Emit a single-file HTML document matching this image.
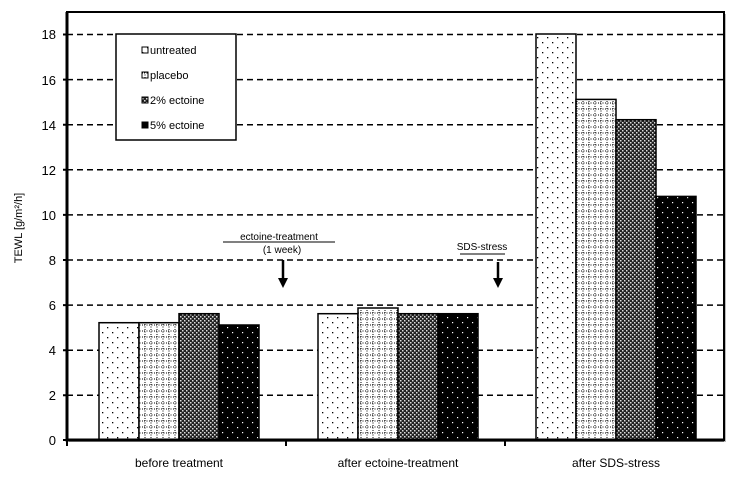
<!DOCTYPE html>
<html><head><meta charset="utf-8"><style>body{margin:0;background:#fff}svg{display:block}text{font-family:"Liberation Sans",sans-serif}</style></head><body>
<svg width="744" height="487" viewBox="0 0 744 487">
<defs>
<pattern id="p1" width="10" height="10" patternUnits="userSpaceOnUse"><rect width="10" height="10" fill="#fff"/><rect x="2" y="2" width="1.3" height="1.3" fill="#000"/><rect x="7" y="7" width="1.3" height="1.3" fill="#000"/></pattern>
<pattern id="p2" width="12" height="12" patternUnits="userSpaceOnUse"><rect width="12" height="12" fill="#fff"/><path d="M0 1H12M1 0V12" stroke="#000" stroke-width="1" stroke-dasharray="1 1.5"/><path d="M0 7H12M7 0V12" stroke="#000" stroke-width="1" stroke-dasharray="1 1.5"/></pattern>
<pattern id="p3" width="4" height="4" patternUnits="userSpaceOnUse"><rect width="4" height="4" fill="#222"/><rect x="0" y="0" width="1.5" height="1.5" fill="#ddd"/><rect x="2" y="2" width="1.5" height="1.5" fill="#ddd"/></pattern>
<pattern id="p4" width="10" height="10" patternUnits="userSpaceOnUse"><rect width="10" height="10" fill="#000"/><rect x="2" y="2" width="1.2" height="1.2" fill="#fff"/><rect x="7" y="7" width="1.2" height="1.2" fill="#fff"/></pattern>
</defs>
<rect x="69" y="14" width="657" height="428" fill="#bbb"/>
<rect x="67" y="12" width="657" height="428" fill="#fff" stroke="#000" stroke-width="2"/>
<g stroke="#000" stroke-width="1.5" stroke-dasharray="6 4">
<path d="M67 34.5H724M67 79.6H724M67 124.7H724M67 169.8H724M67 214.9H724M67 260H724M67 305.1H724M67 350.2H724M67 395.3H724"/>
</g>
<g stroke="#000" stroke-width="1.5">
<rect x="99" y="322.7" width="40" height="117.3" fill="url(#p1)"/>
<rect x="139" y="322.7" width="40" height="117.3" fill="url(#p2)"/>
<rect x="179" y="313.7" width="40" height="126.3" fill="url(#p3)"/>
<rect x="219" y="325" width="40" height="115" fill="url(#p4)"/>
<rect x="318" y="313.7" width="40" height="126.3" fill="url(#p1)"/>
<rect x="358" y="308" width="40" height="132" fill="url(#p2)"/>
<rect x="398" y="313.7" width="40" height="126.3" fill="url(#p3)"/>
<rect x="438" y="313.7" width="40" height="126.3" fill="url(#p4)"/>
<rect x="536" y="34" width="40" height="406" fill="url(#p1)"/>
<rect x="576" y="99.4" width="40" height="340.6" fill="url(#p2)"/>
<rect x="616" y="119.7" width="40" height="320.3" fill="url(#p3)"/>
<rect x="656" y="196.4" width="40" height="243.6" fill="url(#p4)"/>
</g>
<path d="M67 12V440H724" fill="none" stroke="#000" stroke-width="3"/>
<g stroke="#000" stroke-width="2"><path d="M63 440H67M63 395.3H67M63 350.2H67M63 305.1H67M63 260H67M63 214.9H67M63 169.8H67M63 124.7H67M63 79.6H67M63 34.5H67M286 440V446M505 440V446M67 440V446"/></g>
<g font-size="13" text-anchor="end">
<text x="56" y="445">0</text><text x="56" y="400">2</text><text x="56" y="355">4</text><text x="56" y="310">6</text><text x="56" y="265">8</text><text x="56" y="220">10</text><text x="56" y="175">12</text><text x="56" y="130">14</text><text x="56" y="85">16</text><text x="56" y="39">18</text>
</g>
<text transform="translate(22 228) rotate(-90)" font-size="11" text-anchor="middle">TEWL [g/m²/h]</text>
<g font-size="12" text-anchor="middle">
<text x="179" y="467">before treatment</text>
<text x="398" y="467">after ectoine-treatment</text>
<text x="616" y="467">after SDS-stress</text>
</g>
<rect x="116" y="34" width="120" height="106" fill="#fff" stroke="#000" stroke-width="1.5"/>
<g font-size="11">
<rect x="142" y="47" width="6" height="6" fill="url(#p1)" stroke="#000"/><text x="150" y="54">untreated</text>
<rect x="142" y="72" width="6" height="6" fill="url(#p2)" stroke="#000"/><text x="150" y="79">placebo</text>
<rect x="142" y="97" width="6" height="6" fill="url(#p3)" stroke="#000"/><text x="150" y="104">2% ectoine</text>
<rect x="142" y="122" width="6" height="6" fill="#000" stroke="#000"/><text x="150" y="129">5% ectoine</text>
</g>
<g font-size="10" text-anchor="middle">
<text x="279" y="240">ectoine-treatment</text>
<text x="282" y="253">(1 week)</text>
<text x="482" y="250">SDS-stress</text>
</g>
<path d="M223 242H335M460 254H505" stroke="#000" stroke-width="1"/>
<path d="M283 260V280" stroke="#000" stroke-width="2.5"/><path d="M278 278L283 288L288 278Z"/>
<path d="M498 262V280" stroke="#000" stroke-width="2.5"/><path d="M493 278L498 288L503 278Z"/>
</svg>
</body></html>
